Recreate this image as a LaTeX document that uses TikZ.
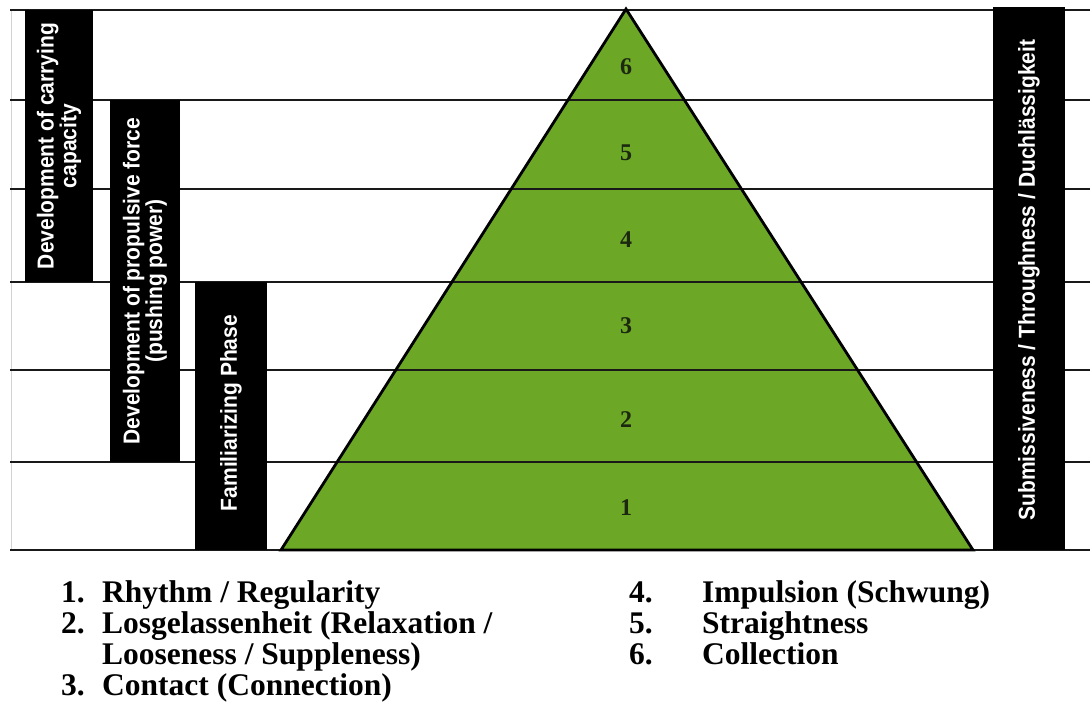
\documentclass[tikz,border=0pt]{standalone}
\usepackage{fontspec}
\setmainfont{Liberation Serif}
\newfontfamily\legfont{Liberation Serif}
\newfontfamily\barfont{Liberation Sans}
\definecolor{pyrgreen}{RGB}{108,168,38}
\definecolor{numcol}{RGB}{28,40,16}
\begin{document}
\begin{tikzpicture}[x=1pt,y=-1pt,
  hline/.style={line width=2.6pt, black!90},
  barbox/.style={fill=black},
  bartext/.style={text=white, font=\barfont\bfseries\fontsize{21}{20.5}\selectfont, align=center, rotate=90, inner sep=0pt},
  pyrnum/.style={text=numcol, font=\legfont\bfseries\fontsize{24}{24}\selectfont, inner sep=0pt},
  legitem/.style={anchor=base west, font=\legfont\bfseries\fontsize{31.5}{31}\selectfont, inner sep=0pt}]
\useasboundingbox (0,0) rectangle (1090,713);
\fill[white] (0,0) rectangle (1090,713);
% pyramid
\coordinate (apex) at (626,9);
\coordinate (bl) at (281,550);
\coordinate (br) at (973,550);
\fill[pyrgreen] (apex) -- (bl) -- (br) -- cycle;
% faint left border
\draw[gray!35, line width=0.8pt] (11,10) -- (11,550);
% horizontal lines
\foreach \yy in {10,100,189,282,370,462,550}
  \draw[hline] (10,\yy) -- (1090,\yy);
\draw[line width=2.8pt, line join=miter] (apex) -- (bl) -- (br) -- cycle;
% bars
\fill[barbox] (25,10) rectangle (93,282);
\fill[barbox] (110,100) rectangle (180,462);
\fill[barbox] (195,282) rectangle (267,550);
\fill[barbox] (993,7) rectangle (1065,550);
\node[bartext] (b1) at (59,146) {\scalebox{1}[1.1]{Development of carrying}\\\scalebox{1}[1.1]{capacity}};
\node[bartext] (b2) at (145,281) {\scalebox{1}[1.1]{Development of propulsive force}\\\scalebox{1}[1.1]{(pushing power)}};
\node[bartext] (b3) at (231,413) {\scalebox{1}[1.1]{Familiarizing Phase}};
\node[bartext] (b4) at (1029,280) {\scalebox{1}[1.1]{Submissiveness / Throughness / Duchlässigkeit}};
% pyramid numbers
\node[pyrnum] (n6) at (626,67) {6};
\node[pyrnum] (n5) at (626,153) {5};
\node[pyrnum] (n4) at (626,240) {4};
\node[pyrnum] (n3) at (626,326) {3};
\node[pyrnum] (n2) at (626,420) {2};
\node[pyrnum] (n1) at (626,508) {1};
% legend
\node[legitem] (l1n) at (61,602) {1.};
\node[legitem] (l1t) at (102,602) {Rhythm / Regularity};
\node[legitem] (l2n) at (61,633) {2.};
\node[legitem] (l2t) at (102,633) {Losgelassenheit (Relaxation /};
\node[legitem] (l2u) at (102,664) {Looseness / Suppleness)};
\node[legitem] (l3n) at (61,695) {3.};
\node[legitem] (l3t) at (102,695) {Contact (Connection)};
\node[legitem] (l4n) at (629,602) {4.};
\node[legitem] (l4t) at (702,602) {Impulsion (Schwung)};
\node[legitem] (l5n) at (629,633) {5.};
\node[legitem] (l5t) at (702,633) {Straightness};
\node[legitem] (l6n) at (629,664) {6.};
\node[legitem] (l6t) at (702,664) {Collection};
\end{tikzpicture}
\end{document}
